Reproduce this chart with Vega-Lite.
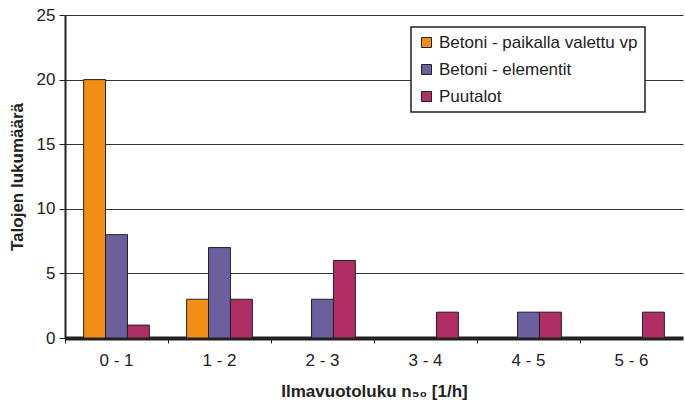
{
  "$schema": "https://vega.github.io/schema/vega-lite/v6.json",
  "width": 618,
  "height": 323,
  "autosize": {"type": "none"},
  "padding": {"left": 65, "top": 15, "right": 2, "bottom": 70},
  "background": "white",
  "config": {
    "font": "Liberation Sans",
    "view": {"stroke": null}
  },
  "data": {
    "values": [
      {"luokka": "0 - 1", "tyyppi": "Betoni - paikalla valettu vp", "j": 1, "arvo": 20},
      {"luokka": "0 - 1", "tyyppi": "Betoni - elementit", "j": 2, "arvo": 8},
      {"luokka": "0 - 1", "tyyppi": "Puutalot", "j": 3, "arvo": 1},
      {"luokka": "1 - 2", "tyyppi": "Betoni - paikalla valettu vp", "j": 1, "arvo": 3},
      {"luokka": "1 - 2", "tyyppi": "Betoni - elementit", "j": 2, "arvo": 7},
      {"luokka": "1 - 2", "tyyppi": "Puutalot", "j": 3, "arvo": 3},
      {"luokka": "2 - 3", "tyyppi": "Betoni - paikalla valettu vp", "j": 1, "arvo": 0},
      {"luokka": "2 - 3", "tyyppi": "Betoni - elementit", "j": 2, "arvo": 3},
      {"luokka": "2 - 3", "tyyppi": "Puutalot", "j": 3, "arvo": 6},
      {"luokka": "3 - 4", "tyyppi": "Betoni - paikalla valettu vp", "j": 1, "arvo": 0},
      {"luokka": "3 - 4", "tyyppi": "Betoni - elementit", "j": 2, "arvo": 0},
      {"luokka": "3 - 4", "tyyppi": "Puutalot", "j": 3, "arvo": 2},
      {"luokka": "4 - 5", "tyyppi": "Betoni - paikalla valettu vp", "j": 1, "arvo": 0},
      {"luokka": "4 - 5", "tyyppi": "Betoni - elementit", "j": 2, "arvo": 2},
      {"luokka": "4 - 5", "tyyppi": "Puutalot", "j": 3, "arvo": 2},
      {"luokka": "5 - 6", "tyyppi": "Betoni - paikalla valettu vp", "j": 1, "arvo": 0},
      {"luokka": "5 - 6", "tyyppi": "Betoni - elementit", "j": 2, "arvo": 0},
      {"luokka": "5 - 6", "tyyppi": "Puutalot", "j": 3, "arvo": 2}
    ]
  },
  "mark": {"type": "bar", "stroke": "#222222", "strokeWidth": 1},
  "encoding": {
    "x": {
      "field": "luokka",
      "type": "nominal",
      "sort": ["0 - 1", "1 - 2", "2 - 3", "3 - 4", "4 - 5", "5 - 6"],
      "scale": {"paddingInner": 0, "paddingOuter": 0},
      "axis": {
        "title": "Ilmavuotoluku n₅₀ [1/h]",
        "titleFontSize": 17,
        "titleFontWeight": "bold",
        "titleColor": "#222222",
        "titlePadding": 15,
        "labelAngle": 0,
        "labelFontSize": 17,
        "labelColor": "#222222",
        "labelPadding": 9,
        "bandPosition": 0,
        "tickColor": "#222222",
        "tickSize": 5,
        "domainColor": "#222222",
        "domainWidth": 4,
        "grid": false
      }
    },
    "xOffset": {
      "field": "j",
      "type": "ordinal",
      "scale": {"paddingInner": 0, "paddingOuter": 0.85}
    },
    "y": {
      "field": "arvo",
      "type": "quantitative",
      "scale": {"domain": [0, 25], "nice": false},
      "axis": {
        "title": "Talojen lukumäärä",
        "titleFontSize": 17,
        "titleFontWeight": "bold",
        "titleColor": "#222222",
        "titlePadding": 10,
        "values": [0, 5, 10, 15, 20, 25],
        "labelFontSize": 17,
        "labelColor": "#222222",
        "labelPadding": 4,
        "tickColor": "#222222",
        "tickSize": 6,
        "domainColor": "#222222",
        "domainWidth": 2,
        "grid": true,
        "gridColor": "#333333",
        "gridWidth": 1.2
      }
    },
    "color": {
      "field": "tyyppi",
      "type": "nominal",
      "sort": ["Betoni - paikalla valettu vp", "Betoni - elementit", "Puutalot"],
      "scale": {
        "domain": ["Betoni - paikalla valettu vp", "Betoni - elementit", "Puutalot"],
        "range": ["#F28E13", "#6B5F9E", "#B02E63"]
      },
      "legend": {
        "title": null,
        "orient": "none",
        "legendX": 346,
        "legendY": 12,
        "symbolType": "square",
        "symbolSize": 100,
        "symbolStrokeColor": "#222222",
        "symbolStrokeWidth": 1,
        "labelFontSize": 17,
        "labelLimit": 400,
        "labelColor": "#222222",
        "labelOffset": 4,
        "rowPadding": 9,
        "padding": 7,
        "strokeColor": "#222222",
        "fillColor": "white",
        "cornerRadius": 0,
        "encode": {"legend": {"update": {"strokeWidth": {"value": 1.5}}}}
      }
    }
  }
}
